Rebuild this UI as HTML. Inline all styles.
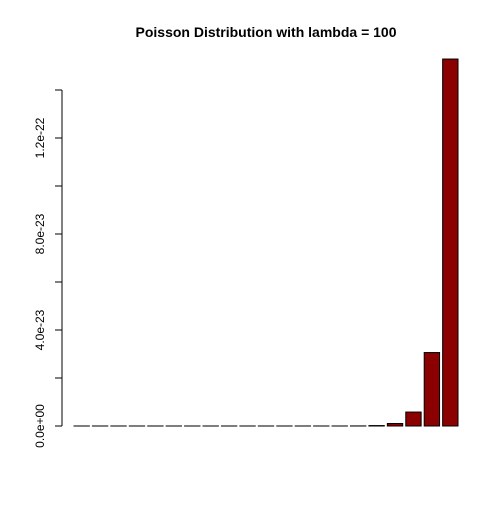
<!DOCTYPE html>
<html><head><meta charset="utf-8"><style>body{margin:0;background:#fff}</style></head>
<body>
<svg id="chart" width="504" height="504" xmlns="http://www.w3.org/2000/svg" font-family="Liberation Sans, Arial, sans-serif">
<rect width="504" height="504" fill="#fff"/>
<text x="266" y="37" text-anchor="middle" font-size="14" font-weight="bold">Poisson Distribution with lambda = 100</text>
<g id="bars"></g>
<g id="axis"></g>
</svg>
<script>
const categories = [0,1,2,3,4,5,6,7,8,9,10,11,12,13,14,15,16,17,18,19,20];
const values = [3.72e-44,3.72e-42,1.86e-40,6.2e-39,1.55e-37,3.1e-36,5.17e-35,7.38e-34,9.23e-33,1.03e-31,1.03e-30,9.34e-30,7.78e-29,5.99e-28,4.28e-27,2.85e-26,1.78e-25,1.046e-24,5.81e-24,3.06e-23,1.529e-22];
const tickValues = [0,2e-23,4e-23,6e-23,8e-23,1e-22,1.2e-22,1.4e-22];
const tickLabels = ["0.0e+00","","4.0e-23","","8.0e-23","","1.2e-22",""];
const NS="http://www.w3.org/2000/svg";
const y0=426, pxPerUnit=96/4e-23;
const yScale=v=>y0-v*pxPerUnit;
const left=74, right=458, n=categories.length;
const w=(right-left)/(n+(n-1)*0.2), step=w*1.2;
const xScale=i=>left+i*step;
const bars=document.getElementById('bars');
categories.forEach((c,i)=>{
  const r=document.createElementNS(NS,'rect');
  const y=yScale(values[i]);
  const h=Math.max(0.01,y0-y);
  r.setAttribute('x',xScale(i));r.setAttribute('y',y0-h);
  r.setAttribute('width',w);r.setAttribute('height',h);
  r.setAttribute('fill','#8b0000');r.setAttribute('stroke','#000');r.setAttribute('stroke-width','1');
  
  
  bars.appendChild(r);
});
const ax=document.getElementById('axis');
const ln=document.createElementNS(NS,'line');
ln.setAttribute('x1',62);ln.setAttribute('x2',62);
ln.setAttribute('y1',yScale(tickValues[0]));ln.setAttribute('y2',yScale(tickValues[tickValues.length-1]));
ln.setAttribute('stroke','#000');


ax.appendChild(ln);
tickValues.forEach((v,i)=>{
  const y=yScale(v);
  const t=document.createElementNS(NS,'line');
  t.setAttribute('x1',55);t.setAttribute('x2',62);t.setAttribute('y1',y);t.setAttribute('y2',y);t.setAttribute('stroke','#000');
  
  
  ax.appendChild(t);
  if(tickLabels[i]){
    const tx=document.createElementNS(NS,'text');
    tx.setAttribute('x',0);tx.setAttribute('y',0);
    tx.setAttribute('transform','translate(44,'+y+') rotate(-90)');
    tx.setAttribute('text-anchor','middle');tx.setAttribute('font-size','12');
    tx.textContent=tickLabels[i];
    
    
    ax.appendChild(tx);
  }
});
</script>
</body></html>
